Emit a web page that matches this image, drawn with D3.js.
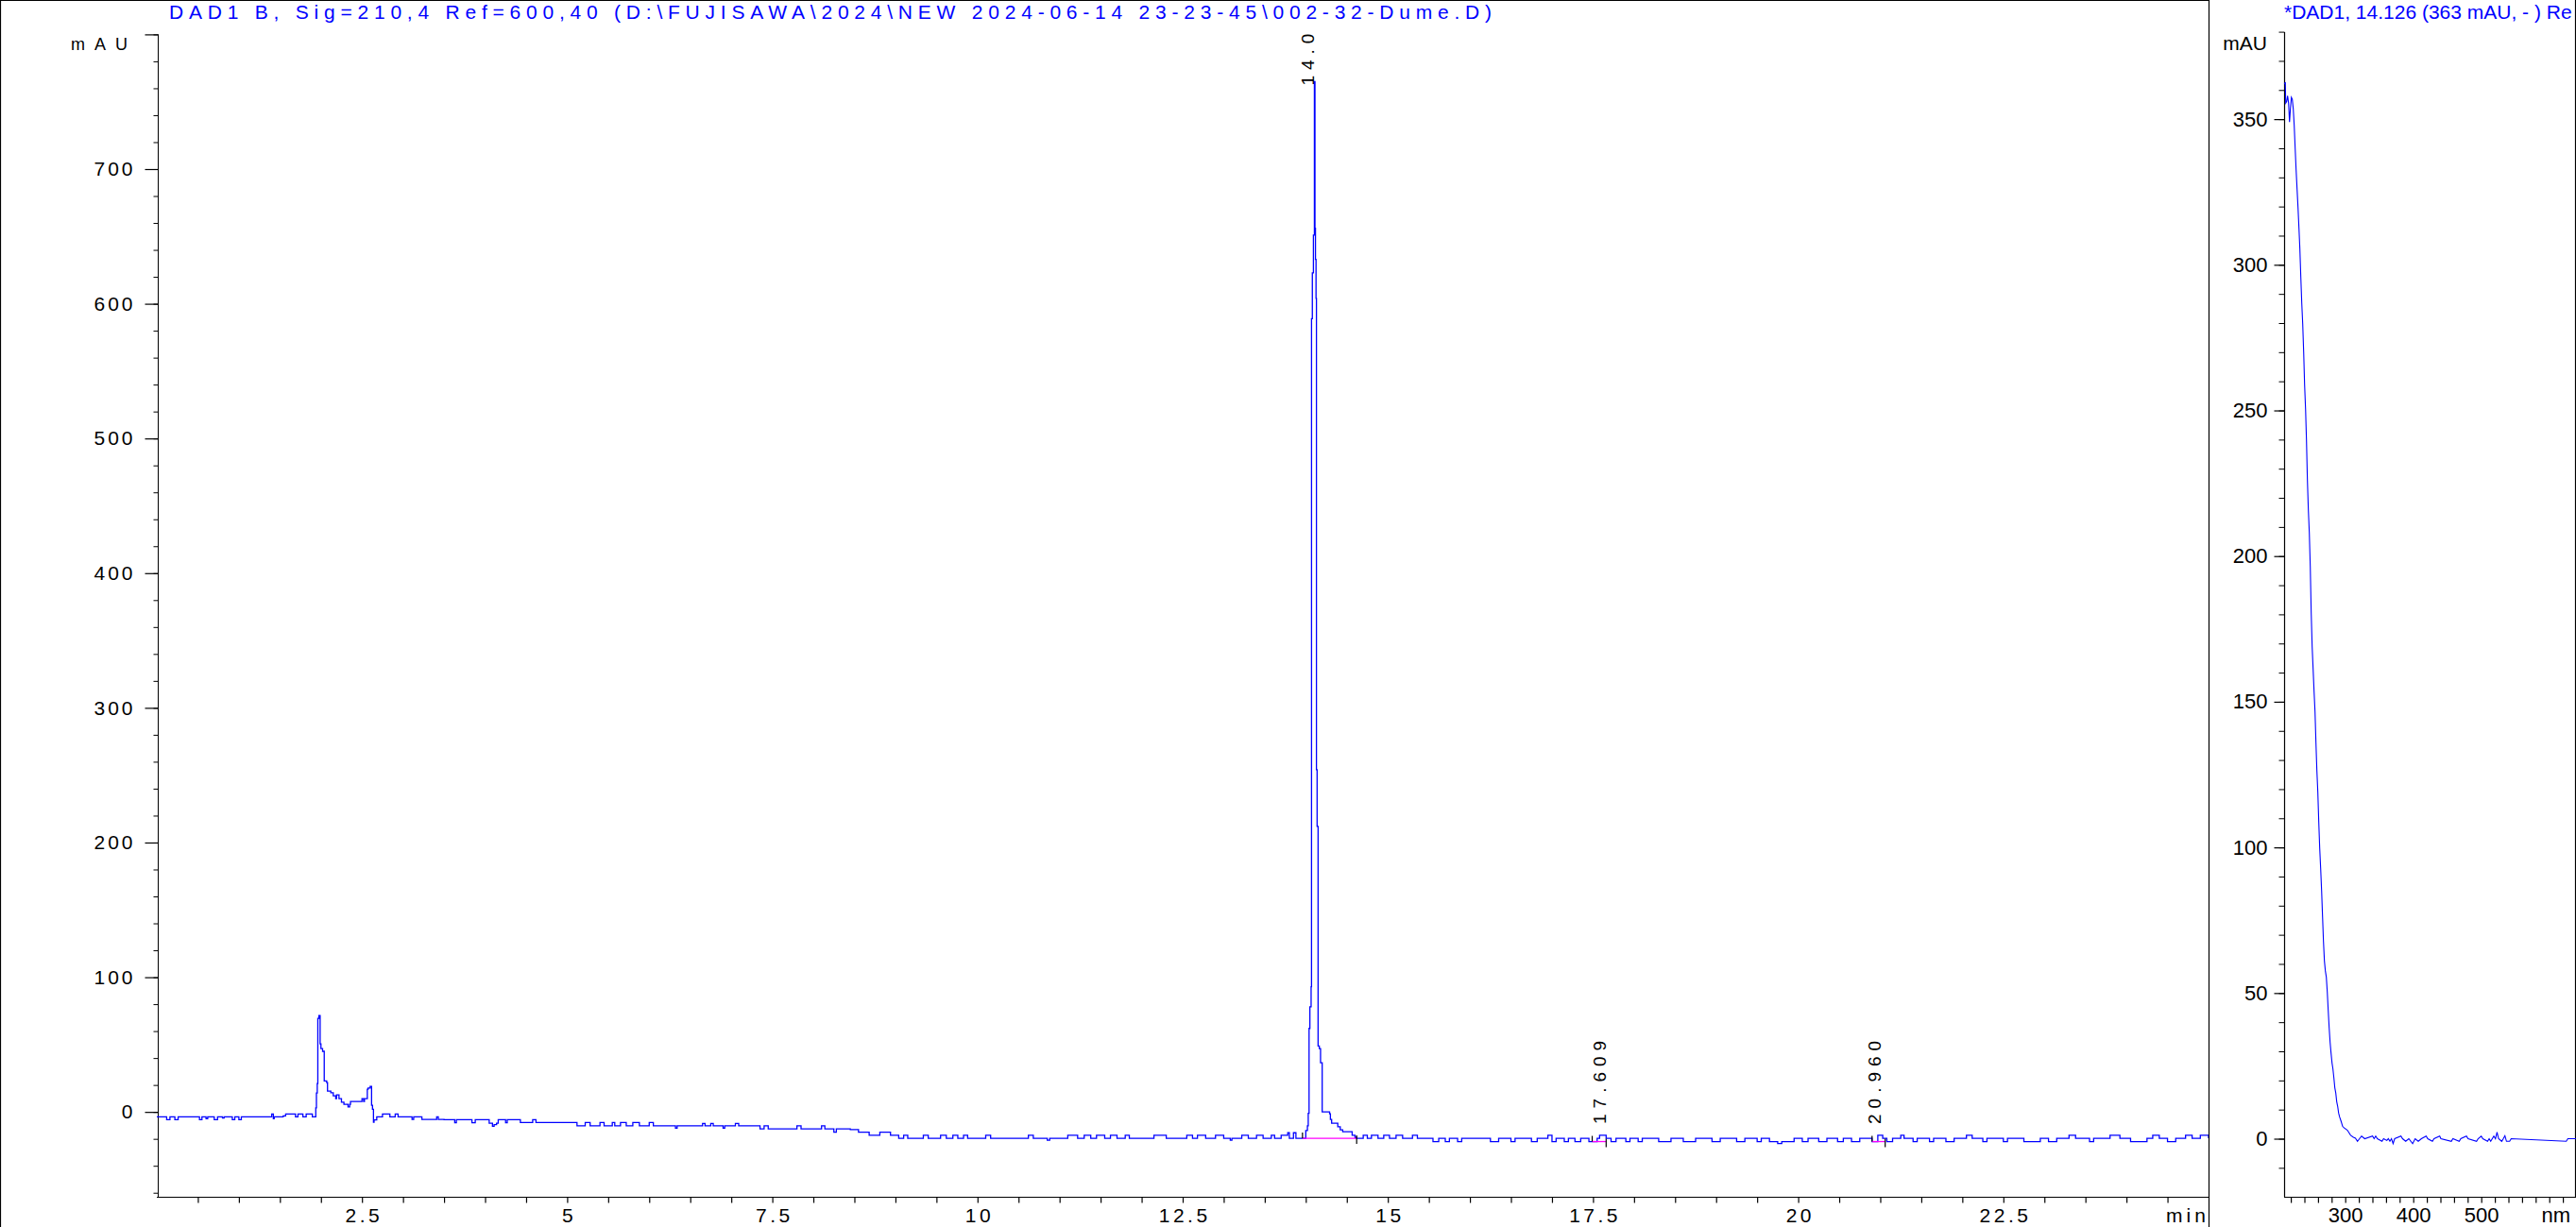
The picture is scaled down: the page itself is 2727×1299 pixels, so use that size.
<!DOCTYPE html>
<html><head><meta charset="utf-8">
<script src="https://cdnjs.cloudflare.com/ajax/libs/d3/7.8.5/d3.min.js"></script>
<style>html,body{margin:0;padding:0;background:#fff;overflow:hidden}</style>
</head><body>
<svg id="c" width="2727" height="1299"></svg>
<script>
// ---------- DATA ----------
const chromTitle = "DAD1 B, Sig=210,4 Ref=600,40 (D:\\FUJISAWA\\2024\\NEW 2024-06-14 23-23-45\\002-32-Dume.D)";
const specTitle = "*DAD1, 14.126 (363 mAU, -  ) Re";

// chromatogram: [time (min), signal (mAU)]
const chromatogram = [
[0.00,-3.7],[0.10,-3.7],[0.12,-5.8],[0.16,-3.7],[0.22,-5.8],[0.26,-3.7],[0.50,-3.7],[0.52,-5.8],[0.55,-3.7],[0.60,-5.0],[0.62,-3.7],[0.70,-5.8],[0.74,-3.7],[0.80,-4.6],[0.82,-3.7],[0.92,-5.8],[0.95,-3.7],[1.00,-5.8],[1.03,-3.7],[1.30,-3.7],[1.40,-1.6],[1.42,-5.0],[1.43,-3.7],[1.54,-3.0],[1.57,-1.6],[1.69,-3.7],[1.72,-1.6],[1.78,-3.7],[1.82,-1.6],[1.895,-3.7],
[1.937,3],[1.945,14],[1.955,21],[1.962,69.5],[1.975,71.5],[1.99,50.5],[2.00,47],[2.02,45],[2.04,23],[2.07,21.7],[2.08,15.4],[2.12,14.2],[2.15,12],[2.18,9.8],[2.19,12.6],[2.21,12.6],[2.22,9.8],[2.25,7.2],[2.28,5.6],[2.31,5.6],[2.33,3.7],[2.35,5.6],[2.36,7.7],[2.43,7.7],[2.50,9.8],[2.52,7.7],[2.53,9.8],[2.565,16.8],[2.575,17.8],[2.60,18.9],[2.617,4.9],[2.628,2],[2.640,-7.7],[2.647,-6.0],[2.68,-3.7],[2.75,-1.6],
[2.84,-3.7],[2.905,-1.6],[2.94,-3.7],[3.11,-5.6],[3.13,-3.7],[3.23,-5.6],[3.41,-3.7],[3.43,-5.6],[3.50,-5.8],[3.63,-8.0],[3.65,-5.8],[3.84,-8.0],[3.88,-5.8],[4.05,-8.4],[4.09,-10.7],[4.11,-9.5],[4.14,-8.4],[4.16,-5.8],[4.22,-5.8],[4.25,-8.0],[4.27,-5.8],[4.43,-7.9],[4.58,-5.8],[4.62,-7.9],[5.12,-10.3],[5.22,-7.9],[5.28,-10.3],[5.40,-7.9],[5.45,-10.3],[5.55,-7.9],[5.58,-10.3],[5.65,-7.9],[5.72,-10.3],[5.80,-7.9],[5.88,-10.3],[6.00,-7.9],[6.05,-10.3],[6.30,-10.3],[6.32,-12.0],[6.34,-10.3],[6.60,-10.3],[6.65,-8.5],[6.68,-10.3],[6.75,-8.5],[6.78,-10.3],[6.90,-12],[6.92,-10.3],[7.05,-8.5],[7.09,-10.3],[7.30,-10.3],[7.35,-12.6],[7.40,-10.3],[7.45,-12.6],[7.55,-12.6],[7.80,-10.3],[7.85,-12.6],[8.10,-10.3],[8.14,-12.6],[8.25,-15.0],[8.28,-12.6],
[8.45,-13.1],[8.55,-15.0],[8.68,-17.3],[8.81,-15.0],[8.94,-17.3],[9.04,-19.6],[9.10,-17.3],[9.15,-19.6],[9.30,-19.6],[9.34,-17.3],[9.40,-19.6],[9.55,-17.3],[9.62,-19.6],[9.70,-17.3],[9.76,-19.6],[9.83,-17.3],[9.88,-19.6],[10.10,-17.3],[10.16,-19.6],[10.60,-19.6],[10.62,-17.3],[10.68,-19.6],[10.85,-21.0],[10.88,-19.6],[11.10,-17.3],[11.22,-19.6],[11.30,-17.3],[11.38,-19.6],[11.45,-17.3],[11.55,-19.6],[11.62,-17.3],[11.70,-19.6],[11.80,-17.3],[11.85,-19.6],[12.15,-17.3],[12.30,-19.6],[12.55,-17.3],[12.62,-19.6],[12.68,-17.3],[12.78,-19.6],[12.90,-17.3],[13.00,-19.6],[13.08,-21.0],[13.10,-19.6],[13.22,-17.3],[13.30,-19.6],[13.40,-17.3],[13.48,-19.6],[13.58,-17.3],[13.62,-19.6],[13.70,-17.3],[13.78,-15.5],[13.80,-19.6],[13.85,-15.5],[13.88,-19.6],[13.96,-19.6],
[14.00,-13.8],[14.02,-10.3],[14.03,-1.0],[14.04,62],[14.05,78],[14.065,93],[14.07,589],[14.08,623],[14.093,651],[14.105,765],[14.112,656],[14.118,633],[14.125,604],[14.13,254],[14.138,212],[14.15,49],[14.165,47],[14.18,36.5],[14.20,0],[14.29,-1.4],[14.30,-5.6],[14.315,-8.4],[14.39,-11],[14.42,-13.3],[14.45,-14.7],[14.565,-17.3],[14.60,-19],[14.62,-19.6],
[14.70,-17.3],[14.75,-19.6],[14.80,-17.3],[14.88,-19.6],[14.95,-17.3],[15.02,-19.6],[15.10,-17.3],[15.18,-19.6],[15.30,-17.3],[15.36,-19.6],[15.55,-22],[15.62,-19.6],[15.70,-22],[15.75,-19.6],[15.85,-22],[15.90,-19.6],[16.25,-22],[16.35,-19.6],[16.50,-22],[16.55,-19.6],[16.75,-22],[16.82,-19.6],[16.95,-17.3],[17.00,-22],[17.05,-19.6],[17.15,-22],[17.20,-19.6],[17.28,-22],[17.35,-19.6],[17.45,-22],[17.55,-19.6],[17.58,-17.3],[17.66,-19.6],[17.72,-22],[17.78,-19.6],[17.90,-22],[17.95,-19.6],[18.05,-22],[18.10,-19.6],[18.30,-22],[18.45,-19.6],
[18.60,-22],[18.75,-19.6],[18.95,-22],[19.05,-19.6],[19.25,-22],[19.35,-19.6],[19.50,-22],[19.55,-19.6],[19.65,-22],[19.75,-23.5],[19.80,-22],[19.95,-19.6],[20.05,-22],[20.12,-19.6],[20.25,-22],[20.35,-19.6],[20.48,-22],[20.55,-19.6],[20.65,-22],[20.75,-19.6],[20.90,-22],[20.97,-17.3],[21.03,-19.6],[21.08,-22],[21.15,-19.6],[21.25,-17.3],[21.29,-19.6],[21.40,-22],[21.45,-19.6],[21.60,-22],[21.65,-19.6],[21.80,-22],[21.90,-19.6],[22.05,-17.3],[22.12,-19.6],[22.25,-22],[22.30,-19.6],[22.50,-22],[22.55,-19.6],[22.75,-22],[22.95,-19.6],[23.05,-22],[23.15,-19.6],[23.30,-17.3],[23.38,-19.6],[23.55,-22],[23.60,-19.6],[23.80,-17.3],[23.92,-19.6],[24.05,-22],[24.25,-19.6],[24.32,-17.3],[24.40,-19.6],[24.50,-22],[24.60,-19.6],[24.72,-17.3],[24.80,-19.6],[24.90,-17.3],[25.00,-19.6]
];

// integrated peaks: retention time, visible label, integration start/end, baseline level, label start level
const peakRT      = [14.05, 17.609, 20.960];
const peakLabel   = ["14.0", "17.609", "20.960"];
const peakStart   = [13.96, 17.49, 20.90];
const peakEnd     = [14.62, 17.66, 21.06];
const peakBase    = [-19.6, -22, -22];
const peakLabelAt = [762, -9, -9];

// UV spectrum: [wavelength (nm), absorbance (mAU)]
const spectrum = [
[210.6,362],[211.9,362.7],[212.5,355.5],[213.9,356],[215.3,358],[216.7,355.5],[218.1,349],[219.4,353.5],[220.8,357.5],[222.2,356.8],[223.6,353.5],[225,347.8],[226.4,340],[227.8,332.5],[229.2,326],[230.6,319.6],[232,312.4],[233.3,305.5],[234.7,295.8],[236.1,286.8],[237.5,279.7],[238.9,270],[240.3,258.6],[241.7,250.4],[243,240],[244.4,226],[245.8,215.8],[247.2,208],[248.6,196.5],[250,180.4],[251.4,168.8],[252.8,161.2],[254.2,153.5],[255.6,146.5],[256.9,136.3],[258.3,126.5],[259.7,119],[261.1,108.6],[262.5,99.6],[263.9,92.7],[265.3,85],[266.7,76],[268,67.8],[269.4,61],[270.8,57.6],[272.2,55.5],[273.6,50.4],[275,44],[276.4,38],[277.8,33],[279.2,29.3],[280.6,26],[281.9,24],[283.3,20.9],[284.7,17.5],[286.1,15.7],[287.5,12.7],[288.9,11.1],[290.3,8.8],[291.7,7.5],[293.9,6],[296.2,4.2],[298.6,3.7],[303.2,2.9],[307.9,1.2],[312,0.5],[315,0.2],[318,-0.9],[321,0],[324,0.9],[328.7,0],[340.2,0.9],[342.5,0],[344.8,0.9],[347.2,0],[354.1,-0.9],[356.4,0],[361.1,-0.6],[363.4,0],[365.7,-0.9],[368,0],[370.4,-1.7],[372.7,0],[381.9,0.9],[384.3,0],[388.9,-0.9],[393.5,0],[399.1,-1.7],[402.8,0],[407.4,-0.9],[412,0],[419,0.9],[421.3,0],[428.2,-0.9],[430.6,0],[438.9,0.9],[440.7,0],[456,-0.9],[458.3,0],[467.6,-0.9],[469.9,0],[478.2,0.9],[480.6,0],[493.1,-0.9],[495.4,0],[500,0.9],[502.3,0],[509.3,-0.9],[511.6,0],[513.9,-0.9],[516.2,0],[518.5,0.9],[520.9,0],[523.2,2.2],[525.5,0],[530.1,-0.9],[532.4,0],[534.8,1.0],[537.1,-0.9],[541.7,-0.9],[544,0],[625,-0.9],[627.3,0],[640,0]
];

const timeLabelTicks = [2.5,5,7.5,10,12.5,15,17.5,20,22.5];
const mauLabelTicks  = [0,100,200,300,400,500,600,700];
const specMauTicks   = [0,50,100,150,200,250,300,350];
const nmLabelTicks   = [300,400,500];

// ---------- DRAW ----------
const svg = d3.select("#c");
const FONT = "'Liberation Sans', Arial, sans-serif";
const BLUE = "#0000ff";

// frame
const frame = svg.append("g").attr("stroke","#000").attr("stroke-width",1.2);
frame.append("line").attr("x1",0.5).attr("y1",0).attr("x2",0.5).attr("y2",1299);
frame.append("line").attr("x1",0).attr("y1",0.5).attr("x2",2338).attr("y2",0.5);
frame.append("line").attr("x1",2338.5).attr("y1",0).attr("x2",2338.5).attr("y2",1299);
frame.append("line").attr("x1",2726.5).attr("y1",0).attr("x2",2726.5).attr("y2",1267);

// ----- main chromatogram -----
const x = d3.scaleLinear().domain([0,25]).range([166,2338]);
const y = d3.scaleLinear().domain([-63,800]).range([1267,36.4]);

svg.append("defs").append("clipPath").attr("id","plotclip")
  .append("rect").attr("x",166).attr("y",35).attr("width",2338-166).attr("height",1267-35);

// y axis minor
svg.append("g").attr("transform","translate(167.5,0)")
  .call(d3.axisLeft(y).tickValues(d3.range(-60,801,20)).tickSize(5).tickSizeOuter(0).tickFormat(""))
  .call(g=>g.select(".domain").remove());
// y axis major
const ya = svg.append("g").attr("transform","translate(167.5,0)")
  .call(d3.axisLeft(y).tickValues(d3.range(0,801,100)).tickSize(14).tickSizeOuter(0).tickPadding(10)
        .tickFormat(d=> mauLabelTicks.includes(d) ? String(d) : ""));
ya.select(".domain").attr("d","M0,"+y(800)+"V1267");
ya.selectAll("line").attr("stroke-width",1.2);
ya.selectAll("text").attr("font-family",FONT).attr("font-size",21).attr("letter-spacing","3px").attr("fill","#000");

// x axis
const xa = svg.append("g").attr("transform","translate(0,1267.5)")
  .call(d3.axisBottom(x).tickValues(d3.range(0.5,25,0.5)).tickSize(6).tickSizeOuter(0).tickFormat(""));
xa.select(".domain").attr("d","M166,0H2338");
xa.selectAll("line,path").attr("stroke-width",1.2);
const xl = svg.append("g").attr("transform","translate(0,1267)")
  .call(d3.axisBottom(x).tickValues(timeLabelTicks).tickSize(0).tickPadding(12).tickFormat(d=>String(d)));
xl.select(".domain").remove();
xl.selectAll("text").attr("font-family",FONT).attr("font-size",21).attr("letter-spacing","3.5px").attr("fill","#000")
  .attr("dx","1.7px");

svg.append("text").attr("x",2293).attr("y",1294).attr("font-family",FONT).attr("font-size",21)
  .attr("textLength",42).attr("lengthAdjust","spacing").text("min");
svg.append("text").attr("x",75).attr("y",53).attr("font-family",FONT).attr("font-size",18)
  .attr("textLength",60).attr("lengthAdjust","spacing").text("mAU");

// title
svg.append("text").attr("x",179).attr("y",20).attr("font-family",FONT).attr("font-size",21)
  .attr("fill",BLUE).attr("textLength",1400).attr("lengthAdjust","spacing").text(chromTitle);

// trace
const plot = svg.append("g").attr("clip-path","url(#plotclip)");
plot.append("path").datum(chromatogram)
  .attr("d", d3.line().x(d=>x(d[0])).y(d=>y(d[1])).curve(d3.curveStepAfter))
  .attr("fill","none").attr("stroke",BLUE).attr("stroke-width",1.3);

// integration baselines and marks
peakRT.forEach((rt,i)=>{
  const yb = y(peakBase[i]);
  plot.append("line").attr("x1",x(peakStart[i])).attr("x2",x(peakEnd[i])).attr("y1",yb).attr("y2",yb)
    .attr("stroke","#ff00ff").attr("stroke-width",1.3);
  plot.append("line").attr("x1",x(peakStart[i])).attr("x2",x(peakStart[i])).attr("y1",yb-6).attr("y2",yb)
    .attr("stroke","#000").attr("stroke-width",1.2);
  plot.append("line").attr("x1",x(peakEnd[i])).attr("x2",x(peakEnd[i])).attr("y1",yb-3).attr("y2",yb+6)
    .attr("stroke","#000").attr("stroke-width",1.2);
  plot.append("text")
    .attr("transform","translate("+(x(rt)+4)+","+y(peakLabelAt[i])+") rotate(-90)")
    .attr("font-family",FONT).attr("font-size",19).attr("letter-spacing","6px").attr("fill","#000")
    .text(peakLabel[i]);
});

// ----- spectrum panel -----
const sx = d3.scaleLinear().domain([210,640]).range([2417.9,2727.5]);
const sy = d3.scaleLinear().domain([-20,380]).range([1267.2,33.6]);

svg.append("g").attr("transform","translate(2418.5,0)")
  .call(d3.axisLeft(sy).tickValues(d3.range(-10,381,10)).tickSize(6).tickSizeOuter(0).tickFormat(""))
  .call(g=>g.select(".domain").remove());
const sya = svg.append("g").attr("transform","translate(2418.5,0)")
  .call(d3.axisLeft(sy).tickValues(specMauTicks).tickSize(11).tickSizeOuter(0).tickPadding(7).tickFormat(d=>String(d)));
sya.select(".domain").attr("d","M0,34V1267");
sya.selectAll("line,path").attr("stroke-width",1.2);
sya.selectAll("text").attr("font-family",FONT).attr("font-size",22).attr("fill","#000");

const sxa = svg.append("g").attr("transform","translate(0,1267.5)")
  .call(d3.axisBottom(sx).tickValues(d3.range(220,641,20)).tickSize(6).tickSizeOuter(0).tickFormat(""));
sxa.select(".domain").attr("d","M2418,0H2727");
sxa.selectAll("line,path").attr("stroke-width",1.2);
const sxl = svg.append("g").attr("transform","translate(0,1267)")
  .call(d3.axisBottom(sx).tickValues(nmLabelTicks).tickSize(0).tickPadding(11).tickFormat(d=>String(d)));
sxl.select(".domain").remove();
sxl.selectAll("text").attr("font-family",FONT).attr("font-size",22).attr("fill","#000");

svg.append("text").attr("x",2721).attr("y",1294).attr("text-anchor","end").attr("font-family",FONT).attr("font-size",22).text("nm");
svg.append("text").attr("x",2400).attr("y",53).attr("text-anchor","end").attr("font-family",FONT).attr("font-size",21).text("mAU");
svg.append("text").attr("x",2418).attr("y",20).attr("font-family",FONT).attr("font-size",21).attr("fill",BLUE).text(specTitle);

svg.append("path").datum(spectrum)
  .attr("d", d3.line().x(d=>sx(d[0])).y(d=>sy(d[1])))
  .attr("fill","none").attr("stroke",BLUE).attr("stroke-width",1.1);
</script>
</body></html>
